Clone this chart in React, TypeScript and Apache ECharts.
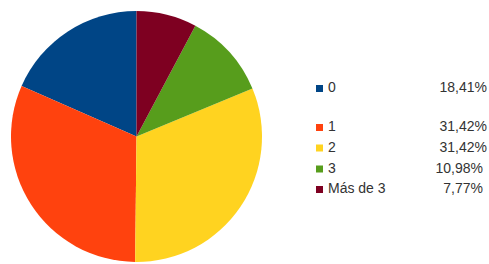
import React, { useEffect, useRef } from "react";
import * as echarts from "echarts";

const categories = ["0", "1", "2", "3", "Más de 3"];
const values = [18.41, 31.42, 31.42, 10.98, 7.77];
const percentLabels = ["18,41%", "31,42%", "31,42%", "10,98%", "7,77%"];
const colors = ["#004586", "#ff420e", "#ffd320", "#579d1c", "#7e0021"];

// legend layout (text baselines and right edges of the percentages)
const rowBaselines = [92, 131, 151.5, 172.5, 193];
const pctRight = [487, 487, 487, 483, 483];

export default function App() {
  const ref = useRef<HTMLDivElement>(null);

  useEffect(() => {
    if (!ref.current) return;
    const chart = echarts.init(ref.current, null, { renderer: "svg" });
    const font = "Liberation Sans, Arial, sans-serif";
    const graphic: any[] = [];
    categories.forEach((c, i) => {
      const base = rowBaselines[i];
      graphic.push({
        type: "rect",
        shape: { x: 316, y: base - 7, width: 7, height: 7 },
        style: { fill: colors[i] },
      });
      graphic.push({
        type: "text",
        x: 328,
        y: base - 5,
        style: {
          text: c,
          fill: "#333333",
          font: `14px ${font}`,
          textAlign: "left",
          textVerticalAlign: "middle",
        },
      });
      graphic.push({
        type: "text",
        x: pctRight[i],
        y: base - 5,
        style: {
          text: percentLabels[i],
          fill: "#333333",
          font: `14px ${font}`,
          textAlign: "right",
          textVerticalAlign: "middle",
        },
      });
    });

    chart.setOption({
      animation: false,
      backgroundColor: "#ffffff",
      graphic,
      series: [
        {
          type: "pie",
          center: [136.5, 136.5],
          radius: 125.5,
          startAngle: 90,
          clockwise: false,
          label: { show: false },
          labelLine: { show: false },
          emphasis: { disabled: true },
          itemStyle: { borderWidth: 0 },
          data: categories.map((c, i) => ({
            name: c,
            value: values[i],
            itemStyle: { color: colors[i] },
          })),
        },
      ],
    });
    return () => chart.dispose();
  }, []);

  return (
    <div
      ref={ref}
      style={{ position: "fixed", left: 0, top: 0, width: 489, height: 264 }}
    />
  );
}
